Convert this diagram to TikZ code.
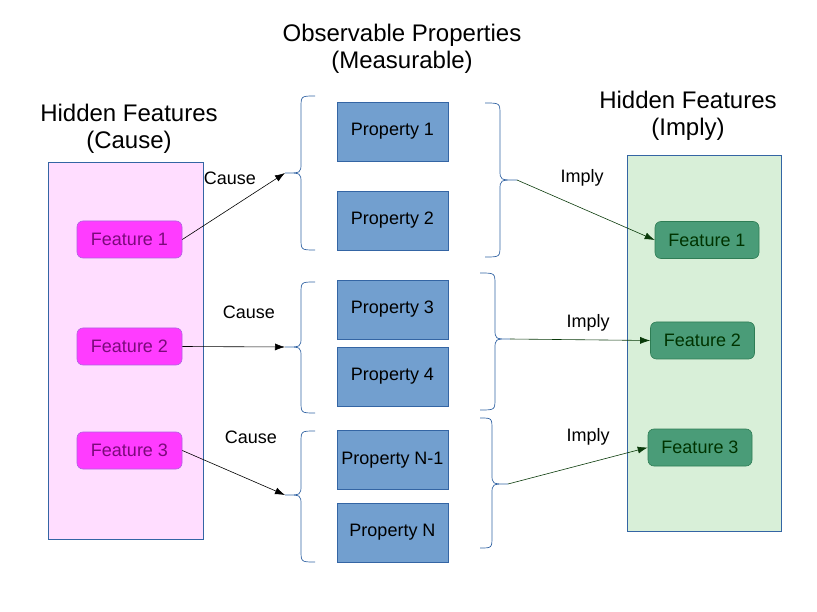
\documentclass[tikz,border=0pt]{standalone}
\usepackage{fontspec}
\setmainfont{Liberation Sans}
\usetikzlibrary{arrows.meta}
\definecolor{boxline}{HTML}{3465A4}
\definecolor{propfill}{HTML}{729FCF}
\definecolor{pinkbg}{HTML}{FFDDFF}
\definecolor{greenbg}{HTML}{D8EFD8}
\definecolor{magfill}{HTML}{FF3CFF}
\definecolor{magline}{HTML}{B060E0}
\definecolor{magtext}{HTML}{7A0A7A}
\definecolor{grnfill}{HTML}{4A9C78}
\definecolor{grnline}{HTML}{2E7D55}
\definecolor{grntext}{HTML}{003300}
\definecolor{implyc}{HTML}{0A3A0A}
\newcommand\drawbrace[6]{%
  \draw[brace] (#1,#4) .. controls (#2,#4) .. (#2,#4+12) -- (#2,#5-10)
    .. controls (#2,#5) .. (#3,#5) .. controls (#2,#5) .. (#2,#5+10)
    -- (#2,#6-12) .. controls (#2,#6) .. (#1,#6);}
\tikzset{
  title/.style={align=center,font=\fontsize{24}{27}\selectfont},
  lbl/.style={font=\fontsize{18}{21}\selectfont},
  prop/.style={draw=boxline,fill=propfill,line width=0.8pt,minimum width=111pt,minimum height=59pt,inner sep=0pt,font=\fontsize{18}{21}\selectfont},
  featL/.style={draw=magline,fill=magfill,rounded corners=6pt,line width=0.6pt,minimum width=105pt,minimum height=37pt,inner sep=0pt,text=magtext,font=\fontsize{18}{21}\selectfont},
  featR/.style={draw=grnline,fill=grnfill,rounded corners=6pt,line width=0.6pt,minimum width=104pt,minimum height=37pt,inner sep=0pt,text=grntext,font=\fontsize{18}{21}\selectfont},
  brace/.style={draw=boxline,line width=0.7pt},
  causearr/.style={draw=black,line width=0.6pt,-{Latex[length=10pt,width=7pt]}},
  implyarr/.style={draw=implyc,line width=0.6pt,-{Latex[length=10pt,width=7pt]}},
}
\begin{document}
\begin{tikzpicture}[x=1pt,y=-1pt]
\useasboundingbox (0,0) rectangle (817,612);
% background boxes
\node[draw=boxline,fill=pinkbg,line width=0.8pt,minimum width=155pt,minimum height=377pt,inner sep=0pt] (leftbg) at (125.5,350.5) {};
\node[draw=boxline,fill=greenbg,line width=0.8pt,minimum width=154pt,minimum height=376pt,inner sep=0pt] (rightbg) at (704,343) {};
% titles
\node[title] (tL) at (129,128.5) {Hidden Features\\(Cause)};
\node[title] (tM) at (402,49) {Observable Properties\\(Measurable)};
\node[title] (tR) at (688,115.5) {Hidden Features\\(Imply)};
% properties
\node[prop] (p1) at (392.5,131.5) {Property 1};
\node[prop] (p2) at (392.5,220.5) {Property 2};
\node[prop] (p3) at (392.5,309.5) {Property 3};
\node[prop] (p4) at (392.5,376.5) {Property 4};
\node[prop] (pn1) at (392.5,460) {Property N-1};
\node[prop] (pn) at (392.5,532.5) {Property N};
% features
\node[featL] (fl1) at (129.5,239.5) {Feature 1};
\node[featL] (fl2) at (129.5,346.5) {Feature 2};
\node[featL] (fl3) at (129.5,450.5) {Feature 3};
\node[featR] (fr1) at (707,240) {Feature 1};
\node[featR] (fr2) at (702.5,340.5) {Feature 2};
\node[featR] (fr3) at (700,447.5) {Feature 3};
% braces
\drawbrace{315}{301}{285}{96}{173}{250}
\drawbrace{315}{301}{285}{282}{347}{413}
\drawbrace{315}{301}{285}{431}{495}{562}
\drawbrace{485}{500}{517}{103}{180}{257}
\drawbrace{480}{495}{510}{273}{339}{410}
\drawbrace{480}{492}{508}{418}{484}{548}
\coordinate (bl1) at (285,173);
\coordinate (bl2) at (285,347);
\coordinate (bl3) at (285,495);
\coordinate (br1) at (517,180);
\coordinate (br2) at (510,339);
\coordinate (br3) at (508,484);
% arrows
\draw[causearr] (fl1.east) -- (bl1);
\draw[causearr] (fl2.east) -- (bl2);
\draw[causearr] (fl3.east) -- (bl3);
\draw[implyarr] (br1) -- (fr1.west);
\draw[implyarr] (br2) -- (fr2.west);
\draw[implyarr] (br3) -- (fr3.west);
% labels
\node[lbl] (c1) at (230,178) {Cause};
\node[lbl] (c2) at (249,312) {Cause};
\node[lbl] (c3) at (251,437) {Cause};
\node[lbl] (i1) at (582,178) {Imply};
\node[lbl] (i2) at (588,323) {Imply};
\node[lbl] (i3) at (588,437) {Imply};
\end{tikzpicture}
\end{document}
